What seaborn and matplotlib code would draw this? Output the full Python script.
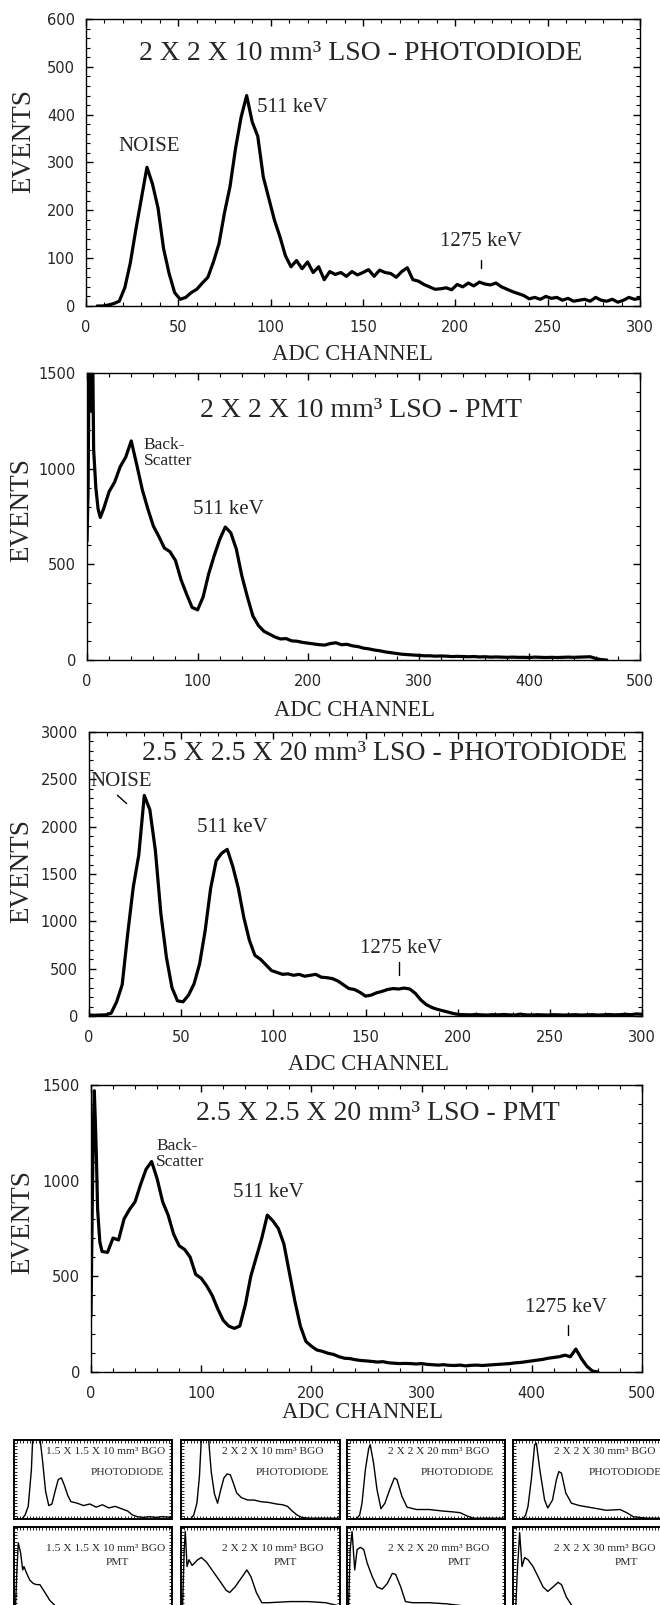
import numpy as np
import pandas as pd
import matplotlib
matplotlib.use("Agg")
import matplotlib.pyplot as plt
import seaborn as sns
from matplotlib.ticker import MultipleLocator, NullFormatter

# ------------------------------------------------------------------ data
# Panel 1: 2 X 2 X 10 mm3 LSO - PHOTODIODE
lso_pd_10_channel = list(range(6, 301, 3))
lso_pd_10_events = [0, 0, 2, 5, 10, 38, 90, 160, 225, 290,
                    255, 205, 120, 68, 28, 14, 18, 28, 35, 48,
                    60, 92, 130, 195, 250, 330, 395, 440, 385, 355,
                    270, 225, 180, 145, 105, 82, 95, 78, 92, 70,
                    82, 55, 72, 66, 70, 62, 72, 65, 70, 76,
                    62, 75, 70, 68, 60, 72, 80, 55, 52, 45,
                    40, 35, 36, 38, 34, 45, 40, 48, 42, 50,
                    46, 44, 48, 40, 35, 30, 26, 22, 15, 18,
                    14, 20, 16, 18, 12, 16, 10, 12, 14, 10,
                    18, 12, 10, 14, 8, 12, 18, 14, 16]

# Panel 2: 2 X 2 X 10 mm3 LSO - PMT
lso_pmt_10_channel = [0, 1, 2, 3, 4, 5, 6, 8, 10, 12] + list(range(15, 471, 5))
lso_pmt_10_events = [620, 900, 1700, 1700, 1300, 1700, 1100, 900, 790, 745,
                     790, 880, 930, 1010, 1060, 1145, 1020, 890, 790, 700,
                     645, 585, 566, 520, 420, 345, 275, 262, 330, 450,
                     545, 630, 695, 665, 580, 440, 330, 230, 180, 150,
                     135, 120, 110, 112, 100, 98, 92, 88, 84, 80,
                     78, 86, 90, 80, 82, 74, 70, 62, 58, 52,
                     48, 42, 38, 34, 30, 28, 26, 24, 22, 22,
                     20, 21, 20, 18, 19, 18, 17, 18, 16, 17,
                     15, 16, 15, 14, 15, 14, 14, 13, 15, 14,
                     13, 14, 13, 14, 15, 14, 15, 16, 17, 8,
                     2, 0]

# Panel 3: 2.5 X 2.5 X 20 mm3 LSO - PHOTODIODE
lso_pd_20_channel = list(range(0, 301, 3))
lso_pd_20_events = [10, 8, 10, 12, 30, 150, 330, 870, 1360, 1700,
                    2330, 2180, 1750, 1080, 620, 300, 160, 150, 220, 340,
                    550, 900, 1350, 1640, 1720, 1760, 1580, 1350, 1040, 800,
                    640, 600, 540, 480, 460, 440, 445, 430, 440, 420,
                    430, 440, 410, 405, 395, 370, 330, 290, 280, 250,
                    210, 220, 245, 260, 280, 290, 285, 295, 285, 240,
                    170, 120, 90, 70, 55, 40, 25, 15, 14, 12,
                    16, 12, 10, 14, 12, 16, 12, 10, 20, 12,
                    10, 14, 12, 10, 14, 12, 10, 12, 14, 10,
                    12, 14, 10, 12, 16, 12, 14, 18, 14, 22,
                    18]

# Panel 4: 2.5 X 2.5 X 20 mm3 LSO - PMT
lso_pmt_20_channel = [0, 1, 2, 3, 4, 5, 6, 8, 10] + list(range(15, 461, 5))
lso_pmt_20_events = [290, 800, 1250, 1470, 1300, 1100, 850, 680, 630,
                     625, 700, 690, 800, 850, 890, 980, 1060, 1100, 1010,
                     890, 820, 720, 660, 640, 600, 510, 490, 450, 400,
                     330, 270, 240, 228, 240, 350, 500, 600, 700, 820,
                     790, 750, 670, 520, 370, 240, 160, 135, 115, 108,
                     98, 92, 80, 72, 70, 64, 60, 58, 55, 52,
                     54, 48, 46, 44, 45, 44, 42, 44, 40, 38,
                     36, 38, 35, 34, 36, 32, 35, 36, 34, 36,
                     38, 40, 42, 44, 48, 50, 54, 58, 62, 66,
                     72, 76, 80, 88, 80, 120, 70, 30, 5, 0]

# Small BGO panels (relative channel 0-100, relative height)
bgo_pd_15x10_x = [0, 5, 7, 9, 11, 12, 14, 16, 18, 20,
                  22, 24, 26, 28, 30, 32, 34, 36, 40, 44,
                  48, 52, 56, 60, 64, 68, 72, 75, 78, 82,
                  86, 90, 94, 100]
bgo_pd_15x10_y = [0, 0, 0.05, 0.16, 0.62, 1.1, 1.3, 1.1, 0.75, 0.35,
                  0.17, 0.19, 0.35, 0.5, 0.52, 0.42, 0.3, 0.22, 0.2, 0.17,
                  0.19, 0.15, 0.18, 0.14, 0.16, 0.13, 0.10, 0.05, 0.03, 0.02,
                  0.03, 0.02, 0.03, 0.02]
bgo_pd_2x10_x = [0, 6, 8, 10, 11.6, 13, 15, 17, 19, 21,
                 23, 25, 27, 29, 31, 33, 35, 38, 42, 46,
                 50, 55, 60, 64, 67, 70, 73, 76, 80, 85,
                 90, 95, 100]
bgo_pd_2x10_y = [0, 0, 0.05, 0.2, 0.54, 1.1, 1.3, 1.1, 0.6, 0.32,
                 0.2, 0.37, 0.52, 0.57, 0.56, 0.45, 0.33, 0.27, 0.24, 0.24,
                 0.22, 0.21, 0.19, 0.18, 0.16, 0.10, 0.05, 0.02, 0.01, 0.01,
                 0.01, 0.01, 0.01]
bgo_pd_2x20_x = [0, 6, 8, 9.5, 11.6, 13.7, 14.7, 16.8, 19, 21.5,
                 24, 27, 30, 31.6, 34.7, 38, 44, 52, 61, 67,
                 71.6, 75.8, 80, 85, 90, 95, 100]
bgo_pd_2x20_y = [0, 0, 0.05, 0.2, 0.62, 0.89, 0.94, 0.71, 0.37, 0.13,
                 0.2, 0.37, 0.52, 0.50, 0.29, 0.15, 0.12, 0.12, 0.10, 0.09,
                 0.08, 0.04, 0.01, 0.01, 0.01, 0.01, 0.01]
bgo_pd_2x30_x = [0, 6.3, 8, 9.5, 11.6, 13.7, 14.8, 17, 20, 22,
                 25, 27.5, 29, 30.7, 33.4, 37, 42, 50.7, 59, 67.7,
                 72, 76, 80, 85, 90, 95, 100]
bgo_pd_2x30_y = [0, 0, 0.05, 0.16, 0.5, 0.94, 0.96, 0.62, 0.24, 0.14,
                 0.24, 0.5, 0.6, 0.58, 0.33, 0.2, 0.17, 0.14, 0.11, 0.12,
                 0.08, 0.03, 0.02, 0.01, 0.01, 0.01, 0.01]

bgo_pmt_15x10_x = [0, 1, 1.8, 2.7, 4.2, 5.5, 6.3, 8, 10, 12.2,
                   14.3, 16.4, 19.6, 22.7, 27, 33, 40, 50, 60]
bgo_pmt_15x10_y = [0.05, 0.3, 0.6, 0.86, 0.77, 0.62, 0.65, 0.59, 0.53, 0.50,
                   0.49, 0.49, 0.42, 0.35, 0.29, 0.27, 0.22, 0.18, 0.15]
bgo_pmt_2x10_x = [0, 1, 2, 2.7, 3.8, 5, 7, 10.5, 12.8, 16,
                  19.5, 24, 28.4, 30.6, 34, 38.5, 41.4, 44, 47.4, 50.8,
                  55, 68.7, 80, 91, 100]
bgo_pmt_2x10_y = [0.05, 0.3, 0.8, 0.96, 0.65, 0.71, 0.66, 0.71, 0.73, 0.69,
                  0.62, 0.53, 0.44, 0.42, 0.47, 0.56, 0.62, 0.56, 0.42, 0.33,
                  0.33, 0.34, 0.34, 0.33, 0.3]
bgo_pmt_2x20_x = [0, 1, 2, 3.2, 4.9, 6.4, 8.5, 10.6, 12.8, 16,
                  19, 22.3, 25.5, 28.7, 30.8, 34, 37, 41.5, 52, 63,
                  75]
bgo_pmt_2x20_y = [0.05, 0.3, 0.8, 0.96, 0.62, 0.80, 0.82, 0.80, 0.68, 0.56,
                  0.47, 0.45, 0.50, 0.59, 0.58, 0.47, 0.34, 0.33, 0.33, 0.32,
                  0.3]
bgo_pmt_2x30_x = [0, 1.5, 2.7, 4.2, 5.7, 7.4, 9.5, 12.7, 15.9, 19,
                  22, 25.4, 28.5, 30.7, 33.8, 37, 42, 50]
bgo_pmt_2x30_y = [0.05, 0.2, 0.6, 0.95, 0.65, 0.73, 0.71, 0.65, 0.56, 0.47,
                  0.43, 0.47, 0.51, 0.49, 0.38, 0.31, 0.25, 0.2]

main_titles = ["2 X 2 X 10 mm\u00b3 LSO - PHOTODIODE",
               "2 X 2 X 10 mm\u00b3 LSO - PMT",
               "2.5 X 2.5 X 20 mm\u00b3 LSO - PHOTODIODE",
               "2.5 X 2.5 X 20 mm\u00b3 LSO - PMT"]
small_titles = ["1.5 X 1.5 X 10 mm\u00b3 BGO", "2 X 2 X 10 mm\u00b3 BGO",
                "2 X 2 X 20 mm\u00b3 BGO", "2 X 2 X 30 mm\u00b3 BGO"]
small_modes = ["PHOTODIODE", "PMT"]

# ------------------------------------------------------------------ style
sns.set_style("ticks")
plt.rcParams['font.family'] = ['DejaVu Sans']
plt.rcParams['axes.linewidth'] = 1.0
SERIF = 'Liberation Serif'

W, H = 660, 1605
fig = plt.figure(figsize=(W / 100, H / 100), dpi=100)
fig.patch.set_facecolor('white')


def px_axes(left, top, right, bottom):
    return fig.add_axes([left / W, 1 - bottom / H, (right - left) / W, (bottom - top) / H])


main_specs = [
    dict(box=(86, 19, 640, 306), ch=lso_pd_10_channel, ev=lso_pd_10_events,
         xlim=(0, 300), ylim=(0, 600), xmaj=50, xmin=10, ymaj=100, ymin=20,
         tpos=(0.495, 0.88), ev_xy=(24, 141), adc_xy=(353, 355)),
    dict(box=(87, 373, 640, 660), ch=lso_pmt_10_channel, ev=lso_pmt_10_events,
         xlim=(0, 500), ylim=(0, 1500), xmaj=100, xmin=20, ymaj=500, ymin=100,
         tpos=(0.495, 0.871), ev_xy=(22, 510), adc_xy=(355, 710)),
    dict(box=(89, 732, 642, 1016), ch=lso_pd_20_channel, ev=lso_pd_20_events,
         xlim=(0, 300), ylim=(0, 3000), xmaj=50, xmin=10, ymaj=500, ymin=100,
         tpos=(0.535, 0.926), ev_xy=(22, 871), adc_xy=(368, 1065)),
    dict(box=(91, 1085, 642, 1372), ch=lso_pmt_20_channel, ev=lso_pmt_20_events,
         xlim=(0, 500), ylim=(0, 1500), xmaj=100, xmin=20, ymaj=500, ymin=100,
         tpos=(0.521, 0.902), ev_xy=(23, 1222), adc_xy=(362, 1413)),
]

# annotations: (panel, text, x, y, ha, fontsize)
labels = [
    (0, "NOISE", 34, 334, 'center', 15),
    (0, "511 keV", 92.6, 416, 'left', 15),
    (0, "1275 keV", 214, 134, 'center', 15),
    (1, "Back-\nScatter", 51, 1082, 'left', 12.5),
    (1, "511 keV", 128, 784, 'center', 15),
    (2, "NOISE", 1, 2482, 'left', 15),
    (2, "511 keV", 78, 1986, 'center', 15),
    (2, "1275 keV", 169, 718, 'center', 15),
    (3, "Back-\nScatter", 59, 1140, 'left', 12.5),
    (3, "511 keV", 160.6, 936, 'center', 15),
    (3, "1275 keV", 431, 335, 'center', 15),
]
# marker strokes: (panel, x0, y0, x1, y1)
strokes = [
    (0, 214, 79, 214, 96),
    (2, 15.4, 2332, 20.4, 2244),
    (2, 168, 433, 168, 570),
    (3, 433, 193, 433, 245),
]

axes_main = []
for i, s in enumerate(main_specs):
    ax = px_axes(*s['box'])
    axes_main.append(ax)
    df = pd.DataFrame({'channel': s['ch'], 'events': s['ev']})
    sns.lineplot(data=df, x='channel', y='events', ax=ax, color='black',
                 linewidth=2.3, estimator=None, sort=False, legend=False)
    ax.set_xlim(*s['xlim'])
    ax.set_ylim(*s['ylim'])
    ax.xaxis.set_major_locator(MultipleLocator(s['xmaj']))
    ax.xaxis.set_minor_locator(MultipleLocator(s['xmin']))
    ax.yaxis.set_major_locator(MultipleLocator(s['ymaj']))
    ax.yaxis.set_minor_locator(MultipleLocator(s['ymin']))
    ax.tick_params(which='both', direction='in', top=True, right=True,
                   labelsize=10.5, color='black')
    ax.tick_params(which='major', length=5, width=1.0)
    ax.tick_params(which='minor', length=3, width=0.8)
    ax.tick_params(axis='x', pad=10)
    ax.tick_params(axis='y', pad=8)
    ax.set_xlabel('')
    ax.set_ylabel('')
    for sp in ax.spines.values():
        sp.set_visible(True)
        sp.set_linewidth(1.0)
        sp.set_color('black')
    ax.text(s['tpos'][0], s['tpos'][1], main_titles[i], transform=ax.transAxes,
            ha='center', va='center', family=SERIF, fontsize=20)
    fig.text(s['ev_xy'][0] / W, 1 - s['ev_xy'][1] / H, "EVENTS", rotation=90,
             ha='center', va='center', family=SERIF, fontsize=19.5)
    fig.text(s['adc_xy'][0] / W, 1 - s['adc_xy'][1] / H, "ADC CHANNEL",
             ha='center', va='center', family=SERIF, fontsize=16.3)

for p, txt, x, y, ha, fs in labels:
    axes_main[p].text(x, y, txt, ha=ha, va='center', family=SERIF, fontsize=fs,
                      linespacing=1.05)
for p, x0, y0, x1, y1 in strokes:
    axes_main[p].plot([x0, x1], [y0, y1], color='black', linewidth=1.0)

# ------------------------------------------------------------------ small panels
small_cols = [(14, 172), (181, 340), (347, 505), (513, 671)]
small_rows = [(1440, 1519), (1527, 1640)]
small_data = [
    [(bgo_pd_15x10_x, bgo_pd_15x10_y), (bgo_pd_2x10_x, bgo_pd_2x10_y),
     (bgo_pd_2x20_x, bgo_pd_2x20_y), (bgo_pd_2x30_x, bgo_pd_2x30_y)],
    [(bgo_pmt_15x10_x, bgo_pmt_15x10_y), (bgo_pmt_2x10_x, bgo_pmt_2x10_y),
     (bgo_pmt_2x20_x, bgo_pmt_2x20_y), (bgo_pmt_2x30_x, bgo_pmt_2x30_y)],
]
title_y = [0.85, 0.814]
mode_y = [0.59, 0.69]
mode_x = [[0.715, 0.70, 0.70, 0.71], [0.655, 0.655, 0.71, 0.72]]

for r, (top, bot) in enumerate(small_rows):
    for c, (lft, rgt) in enumerate(small_cols):
        ax = px_axes(lft, top, rgt, bot)
        xs, ys = small_data[r][c]
        df = pd.DataFrame({'ch': xs, 'n': ys})
        sns.lineplot(data=df, x='ch', y='n', ax=ax, color='black', linewidth=1.0,
                     estimator=None, sort=False, legend=False)
        ax.set_xlim(0, 100)
        ax.set_ylim(0, 1)
        ax.set_xlabel('')
        ax.set_ylabel('')
        ax.xaxis.set_major_locator(MultipleLocator(10))
        ax.xaxis.set_minor_locator(MultipleLocator(2))
        ax.yaxis.set_major_locator(MultipleLocator(0.2))
        ax.yaxis.set_minor_locator(MultipleLocator(0.04 if r == 0 else 0.03))
        ax.xaxis.set_major_formatter(NullFormatter())
        ax.yaxis.set_major_formatter(NullFormatter())
        ax.tick_params(which='both', direction='in', top=True, right=True,
                       length=2, width=0.6, color='black')
        for sp in ax.spines.values():
            sp.set_visible(True)
            sp.set_linewidth(1.4)
            sp.set_color('black')
        ax.text(0.58, title_y[r], small_titles[c], transform=ax.transAxes,
                ha='center', va='center', family=SERIF, fontsize=8.2)
        ax.text(mode_x[r][c], mode_y[r], small_modes[r], transform=ax.transAxes,
                ha='center', va='center', family=SERIF, fontsize=8.2)

fig.savefig("out.png", dpi=100, facecolor='white')
